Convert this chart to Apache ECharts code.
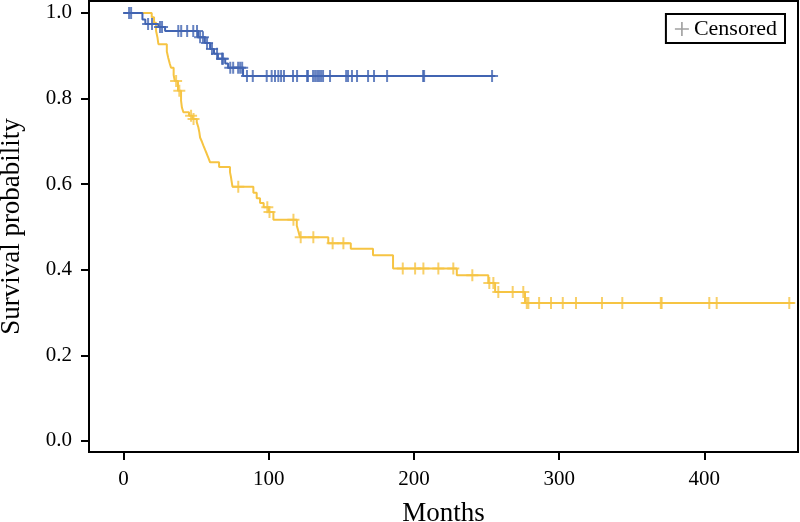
<!DOCTYPE html>
<html>
<head>
<meta charset="utf-8">
<script src="https://cdn.jsdelivr.net/npm/echarts@6/dist/echarts.min.js"></script>
<style>
html,body{margin:0;padding:0;background:#fff;}
#chart{width:800px;height:522px;}
</style>
</head>
<body>
<div id="chart"></div>
<script>
// ---- Data ----
const xTicks = [0, 100, 200, 300, 400];
const yTicks = [0.0, 0.2, 0.4, 0.6, 0.8, 1.0];

// Blue group: step change times (months) and survival after the step
const blueTimes = [0, 13, 15, 24, 28.6, 51.3, 56, 59.6, 62.3, 65, 70, 72, 82.3];
const blueSurv  = [1.0, 0.985, 0.974, 0.967, 0.958, 0.943, 0.93, 0.916, 0.905, 0.893, 0.882, 0.872, 0.853];
const blueEnd = 256;
const blueCensor = [3.8, 5.2, 16.9, 19.6, 25.1, 26.5, 37.7, 39.7, 43.8, 48, 50.6, 52.7, 54.7, 57.5, 60.9, 64.4,
  67.8, 68.5, 73.5, 75.5, 78.9, 80.3, 81.7, 85, 89, 98.6, 102, 104.3, 106.6, 108.5, 110.5, 116.7, 119.5,
  126.4, 127, 130.5, 131.9, 133.3, 134.6, 136, 137.4, 142.2, 153.3, 154.6, 157.3, 160.8, 168.4, 172.5,
  181.5, 206.3, 207, 253.8];

// Yellow group
const yellowTimes = [0, 19.4, 21, 22.4, 23.4, 24, 29.8, 30.8, 31.8, 32.7, 34.5, 35.3, 37.5, 39.6, 40.2, 41.2,
  45.1, 47.5, 50.4, 51.5, 52.2, 52.7, 54, 55, 56.2, 57.3, 58.5, 59.6, 65.8, 73.3, 74, 74.5, 75, 89.4, 91.7,
  94, 96.5, 100, 103.2, 119.3, 120.4, 121.5, 141, 156.5, 171.8, 185.6, 229.5, 251.2, 255.9, 276.5];
const yellowSurv = [1.0, 0.99, 0.977, 0.958, 0.942, 0.927, 0.91, 0.895, 0.882, 0.872, 0.855, 0.841, 0.818,
  0.795, 0.779, 0.768, 0.76, 0.752, 0.745, 0.733, 0.721, 0.709, 0.699, 0.69, 0.68, 0.671, 0.661, 0.651,
  0.64, 0.628, 0.616, 0.605, 0.594, 0.58, 0.567, 0.556, 0.546, 0.535, 0.517, 0.503, 0.49, 0.476, 0.462,
  0.449, 0.434, 0.403, 0.387, 0.369, 0.348, 0.322];
const yellowEnd = 462;
const yellowCensor = [36.2, 38.4, 46.5, 48.2, 79, 99, 100.5, 117, 122, 130.7, 144, 151.4, 192.3, 200.8,
  206.5, 216.8, 227.1, 240.2, 251.9, 254.7, 258.1, 268, 275.3, 277.7, 278.8, 286.2, 294.4, 302.5, 311.6,
  329.5, 343.5, 370, 370.6, 403.4, 408.5, 458.5];

// ---- Build series data ----
function stepLine(times, surv, end) {
  const d = times.map((t, i) => [t, surv[i]]);
  d.push([end, surv[surv.length - 1]]);
  return d;
}
function survAt(times, surv, t) {
  let s = surv[0];
  for (let i = 0; i < times.length; i++) { if (times[i] <= t) s = surv[i]; }
  return s;
}
function censorPts(times, surv, cens) {
  return cens.map(t => [t, survAt(times, surv, t)]);
}

const BLUE = '#4164b2';
const YELLOW = '#f6c443';
const PLUS = 'path://M5,0h2v5h5v2h-5v5h-2v-5h-5v-2h5z';
const PLUS_LEG = 'path://M6,0h1.6v6h6v1.6h-6v6h-1.6v-6h-6v-1.6h6z';
const FONT = '"Liberation Serif", "DejaVu Serif", serif';

const chart = echarts.init(document.getElementById('chart'), null, {renderer: 'canvas'});
chart.setOption({
  animation: false,
  backgroundColor: '#fff',
  grid: {left: 89, right: 2, top: 1, bottom: 70, show: true, borderColor: '#000', borderWidth: 2,
    backgroundColor: 'transparent', containLabel: false, outerBoundsMode: 'none'},
  legend: {
    data: [{name: 'Censored', icon: PLUS_LEG}],
    right: 15, top: 14,
    orient: 'vertical',
    itemWidth: 14, itemHeight: 14,
    padding: [4, 8, 3, 9],
    borderColor: '#000', borderWidth: 2, borderRadius: 0,
    backgroundColor: '#fff',
    textStyle: {fontFamily: FONT, fontSize: 22, color: '#000'},
    selectedMode: false
  },
  xAxis: {
    type: 'value', min: -23.8, max: 464.5,
    name: 'Months', nameLocation: 'middle', nameGap: 48,
    nameTextStyle: {fontFamily: FONT, fontSize: 27, color: '#000'},
    axisLine: {show: true, onZero: false, lineStyle: {color: '#000', width: 2}},
    axisTick: {show: true, customValues: xTicks, length: 8, lineStyle: {color: '#000', width: 2}},
    axisLabel: {customValues: xTicks, fontFamily: FONT, fontSize: 21, color: '#000', margin: 17},
    splitLine: {show: false}
  },
  yAxis: {
    type: 'value', min: -0.026, max: 1.028,
    name: 'Survival probability', nameLocation: 'middle', nameGap: 64, nameRotate: 90,
    nameTextStyle: {fontFamily: FONT, fontSize: 27, color: '#000'},
    axisLine: {show: true, onZero: false, lineStyle: {color: '#000', width: 2}},
    axisTick: {show: true, customValues: yTicks, length: 8, lineStyle: {color: '#000', width: 2}},
    axisLabel: {customValues: yTicks, fontFamily: FONT, fontSize: 21, color: '#000', margin: 17,
      formatter: v => Number(v).toFixed(1)},
    splitLine: {show: false}
  },
  series: [
    {type: 'line', name: 'Group A', step: 'end', data: stepLine(yellowTimes, yellowSurv, yellowEnd),
      showSymbol: false, lineStyle: {color: YELLOW, width: 2}, itemStyle: {color: YELLOW}, z: 2},
    {type: 'line', name: 'Group B', step: 'end', data: stepLine(blueTimes, blueSurv, blueEnd),
      showSymbol: false, lineStyle: {color: BLUE, width: 2}, itemStyle: {color: BLUE}, z: 3},
    {type: 'scatter', name: 'Group A censored', data: censorPts(yellowTimes, yellowSurv, yellowCensor),
      symbol: PLUS, symbolSize: 12, itemStyle: {color: YELLOW}, z: 4},
    {type: 'scatter', name: 'Group B censored', data: censorPts(blueTimes, blueSurv, blueCensor),
      symbol: PLUS, symbolSize: 12, itemStyle: {color: BLUE}, z: 5},
    {type: 'scatter', name: 'Censored', data: [], symbol: PLUS_LEG, itemStyle: {color: '#8a8a8a'}}
  ]
});
</script>
</body>
</html>
